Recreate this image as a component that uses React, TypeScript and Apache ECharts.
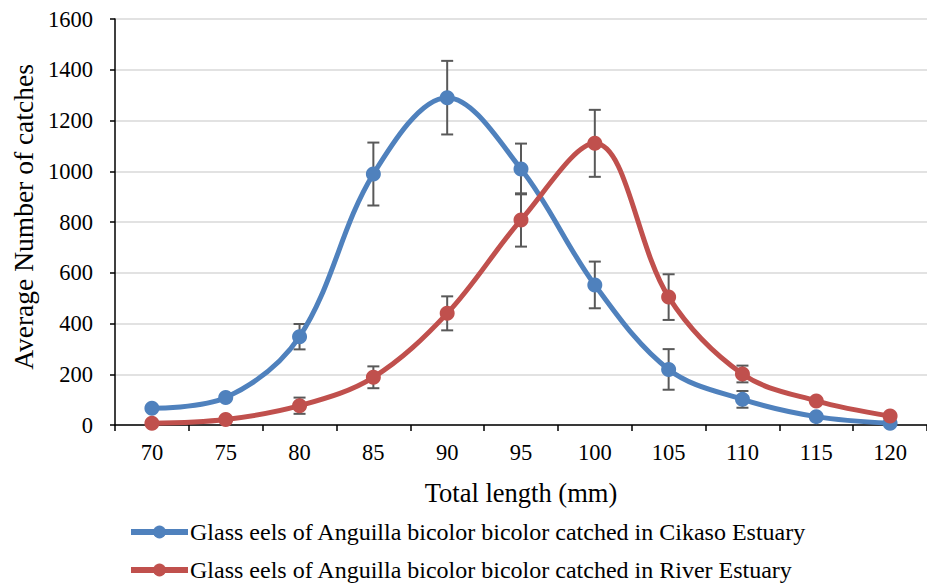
import React, { useEffect, useRef } from "react";
import * as echarts from "echarts";

const categories = ["70", "75", "80", "85", "90", "95", "100", "105", "110", "115", "120"];
const cikasoValues = [66, 108, 348, 989, 1290, 1009, 552, 219, 101, 33, 7];
const cikasoErrors = [0, 0, 50, 124, 145, 100, 92, 80, 33, 0, 0];
const riverValues = [7, 22, 76, 188, 440, 808, 1110, 504, 201, 95, 35];
const riverErrors = [0, 0, 32, 43, 67, 105, 132, 90, 33, 0, 0];
const yTicks = { min: 0, max: 1600, interval: 200 };
const seriesNames = [
  "Glass eels of Anguilla bicolor bicolor catched in Cikaso Estuary",
  "Glass eels of Anguilla bicolor bicolor catched in River Estuary",
];
const colors = ["#4F81BD", "#C0504D"];

const FONT = "Liberation Serif";

function errorData(values: number[], errors: number[]) {
  const out: number[][] = [];
  values.forEach((v, i) => {
    if (errors[i] > 0) out.push([i, v - errors[i], v + errors[i]]);
  });
  return out;
}

function renderError(params: any, api: any) {
  const x = api.value(0);
  const lo = api.coord([x, api.value(1)]);
  const hi = api.coord([x, api.value(2)]);
  const cap = 6;
  const style = { stroke: "#595959", lineWidth: 2 };
  return {
    type: "group",
    children: [
      { type: "line", shape: { x1: lo[0], y1: lo[1], x2: hi[0], y2: hi[1] }, style },
      { type: "line", shape: { x1: lo[0] - cap, y1: lo[1], x2: lo[0] + cap, y2: lo[1] }, style },
      { type: "line", shape: { x1: hi[0] - cap, y1: hi[1], x2: hi[0] + cap, y2: hi[1] }, style },
    ],
  };
}

const legendBase = {
  orient: "horizontal",
  left: 128,
  padding: 0,
  itemWidth: 57,
  itemHeight: 16,
  lineStyle: { width: 6 },
  textStyle: { fontFamily: FONT, fontSize: 24, color: "#000", padding: [0, 0, 0, -3] },
};

export default function App() {
  const ref = useRef<HTMLDivElement>(null);
  useEffect(() => {
    if (!ref.current) return;
    const chart = echarts.init(ref.current, null, { renderer: "svg" });
    chart.setOption({
      animation: false,
      textStyle: { fontFamily: FONT, color: "#000" },
      grid: { left: 115, right: 0, top: 19, bottom: 161, containLabel: false },
      legend: [
        { ...legendBase, top: 520, data: [seriesNames[0]] },
        { ...legendBase, top: 558, data: [seriesNames[1]] },
      ],
      xAxis: {
        type: "category",
        data: categories,
        boundaryGap: true,
        name: "Total length (mm)",
        nameLocation: "middle",
        nameGap: 54,
        nameTextStyle: { fontFamily: FONT, fontSize: 26.5, color: "#000" },
        axisLine: { lineStyle: { color: "#000", width: 1.5 } },
        axisTick: { show: true, alignWithLabel: false, length: 6, lineStyle: { color: "#000", width: 1.5 } },
        axisLabel: { fontFamily: FONT, fontSize: 22.5, color: "#000", margin: 16 },
        splitLine: { show: false },
      },
      yAxis: {
        type: "value",
        min: yTicks.min,
        max: yTicks.max,
        interval: yTicks.interval,
        name: "Average Number of catches",
        nameLocation: "middle",
        nameGap: 78,
        nameTextStyle: { fontFamily: FONT, fontSize: 27.5, color: "#000", padding: [0, 0, 0, 10] },
        axisLine: { show: true, lineStyle: { color: "#000", width: 1.5 } },
        axisTick: { show: true, length: 5, lineStyle: { color: "#000", width: 1.5 } },
        axisLabel: {
          fontFamily: FONT,
          fontSize: 22.5,
          color: "#000",
          margin: 22,
          formatter: (v: number) => String(v),
        },
        splitLine: { show: true, lineStyle: { color: "#D9D9D9", width: 1.5 } },
      },
      series: [
        {
          type: "custom",
          name: "errCikaso",
          renderItem: renderError,
          data: errorData(cikasoValues, cikasoErrors),
          encode: { x: 0, y: [1, 2] },
          z: 1,
          silent: true,
        },
        {
          type: "custom",
          name: "errRiver",
          renderItem: renderError,
          data: errorData(riverValues, riverErrors),
          encode: { x: 0, y: [1, 2] },
          z: 1,
          silent: true,
        },
        {
          type: "line",
          name: seriesNames[0],
          data: cikasoValues,
          smooth: 0.35,
          symbol: "circle",
          symbolSize: 15,
          lineStyle: { color: colors[0], width: 5 },
          itemStyle: { color: colors[0] },
          z: 2,
        },
        {
          type: "line",
          name: seriesNames[1],
          data: riverValues,
          smooth: 0.35,
          symbol: "circle",
          symbolSize: 15,
          lineStyle: { color: colors[1], width: 5 },
          itemStyle: { color: colors[1] },
          z: 3,
        },
      ],
    });
    return () => chart.dispose();
  }, []);
  return (
    <div
      ref={ref}
      style={{ position: "fixed", left: 0, top: 0, width: 927, height: 586, background: "#fff" }}
    />
  );
}
